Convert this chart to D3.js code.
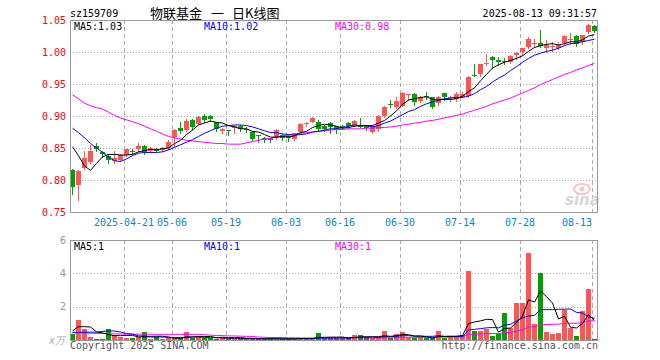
<!DOCTYPE html>
<html lang="zh">
<head>
<meta charset="UTF-8">
<title>物联基金 日K线图</title>
<script src="https://cdn.jsdelivr.net/npm/d3@7/dist/d3.min.js"></script>
<style>
  body { margin: 0; background: #fff; }
  text { font-family: "DejaVu Sans Mono", monospace; font-size: 10px; }
</style>
</head>
<body>
<svg width="660" height="360" id="mainsvg"></svg>
<script>
// trading days shown
const dates = [
  '2025-04-08','2025-04-09','2025-04-10','2025-04-11','2025-04-14','2025-04-15','2025-04-16','2025-04-17','2025-04-18','2025-04-21',
  '2025-04-22','2025-04-23','2025-04-24','2025-04-25','2025-04-28','2025-04-29','2025-04-30','2025-05-06','2025-05-07','2025-05-08',
  '2025-05-09','2025-05-12','2025-05-13','2025-05-14','2025-05-15','2025-05-16','2025-05-19','2025-05-20','2025-05-21','2025-05-22',
  '2025-05-23','2025-05-26','2025-05-27','2025-05-28','2025-05-29','2025-05-30','2025-06-03','2025-06-04','2025-06-05','2025-06-06',
  '2025-06-09','2025-06-10','2025-06-11','2025-06-12','2025-06-13','2025-06-16','2025-06-17','2025-06-18','2025-06-19','2025-06-20',
  '2025-06-23','2025-06-24','2025-06-25','2025-06-26','2025-06-27','2025-06-30','2025-07-01','2025-07-02','2025-07-03','2025-07-04',
  '2025-07-07','2025-07-08','2025-07-09','2025-07-10','2025-07-11','2025-07-14','2025-07-15','2025-07-16','2025-07-17','2025-07-18',
  '2025-07-21','2025-07-22','2025-07-23','2025-07-24','2025-07-25','2025-07-28','2025-07-29','2025-07-30','2025-07-31','2025-08-01',
  '2025-08-04','2025-08-05','2025-08-06','2025-08-07','2025-08-08','2025-08-11','2025-08-12','2025-08-13'
];

const open = [
  .816,.792,.818,.828,.853,.843,.838,.829,.831,.839,
  .846,.848,.853,.845,.848,.847,.850,.867,.881,.878,
  .894,.888,.900,.900,.890,.876,.878,.882,.884,.880,
  .875,.871,.866,.865,.866,.870,.869,.864,.875,.888,
  .891,.891,.884,.889,.884,.884,.889,.886,.885,.884,
  .875,.880,.900,.919,.914,.916,.933,.934,.924,.931,
  .929,.920,.936,.928,.927,.930,.931,.964,.965,.981,
  .992,.987,.986,.985,.995,1.000,1.008,1.013,1.014,1.006,
  1.009,1.006,1.014,1.020,1.025,1.016,1.031,1.041
];
const high = [
  .817,.816,.846,.854,.858,.846,.841,.845,.840,.849,
  .848,.858,.854,.852,.850,.851,.862,.879,.890,.896,
  .895,.900,.903,.901,.891,.882,.878,.886,.886,.883,
  .876,.871,.867,.866,.879,.872,.870,.874,.889,.890,
  .899,.893,.886,.890,.885,.886,.890,.894,.897,.885,
  .886,.901,.916,.925,.929,.938,.935,.936,.932,.937,
  .930,.932,.936,.931,.938,.937,.963,.982,.982,.997,
  .993,.992,.990,.996,1.000,1.007,1.023,1.021,1.034,1.018,
  1.015,1.016,1.026,1.030,1.026,1.027,1.044,1.042
];
const low = [
  .778,.769,.817,.826,.845,.836,.826,.827,.830,.838,
  .841,.846,.840,.843,.845,.846,.848,.853,.873,.876,
  .879,.887,.891,.892,.876,.874,.871,.873,.876,.875,
  .862,.860,.859,.859,.864,.863,.861,.862,.874,.884,
  .890,.876,.877,.873,.873,.880,.881,.884,.883,.878,
  .873,.877,.899,.914,.912,.915,.925,.917,.922,.926,
  .912,.917,.925,.924,.924,.929,.930,.962,.962,.979,
  .975,.980,.982,.983,.989,.995,1.006,1.008,1.008,1.000,
  1.002,1.004,1.012,1.012,1.009,1.012,1.030,1.032
];
const close = [
  .789,.814,.835,.845,.848,.840,.832,.835,.839,.848,
  .844,.853,.844,.850,.846,.850,.860,.878,.877,.892,
  .883,.899,.893,.895,.879,.880,.877,.884,.879,.878,
  .864,.869,.863,.863,.878,.866,.865,.873,.888,.889,
  .897,.880,.880,.883,.880,.883,.884,.892,.884,.882,
  .885,.900,.914,.918,.923,.936,.935,.922,.930,.929,
  .914,.930,.929,.929,.934,.935,.961,.963,.981,.983,
  .987,.985,.985,.994,.999,1.006,1.020,1.014,1.009,1.011,
  1.010,1.011,1.025,1.021,1.013,1.026,1.042,1.033
];

// price moving averages (as drawn)
const ma5 = [
  .852,.838,.822,.815,.826,.836,.840,.840,.839,.839,
  .840,.844,.846,.848,.847,.849,.850,.857,.862,.871,
  .878,.886,.889,.892,.890,.889,.885,.883,.880,.880,
  .876,.875,.871,.867,.867,.868,.867,.869,.874,.876,
  .882,.885,.887,.886,.884,.881,.882,.884,.885,.885,
  .885,.889,.893,.900,.908,.918,.925,.927,.929,.930,
  .926,.925,.926,.926,.927,.931,.938,.944,.955,.965,
  .975,.980,.984,.987,.990,.994,1.001,1.007,1.010,1.012,
  1.013,1.011,1.013,1.016,1.016,1.019,1.025,1.027
];
const ma10 = [
  .881,.874,.866,.857,.850,.843,.836,.830,.829,.833,
  .838,.842,.843,.843,.843,.844,.847,.851,.855,.859,
  .863,.868,.873,.877,.881,.884,.885,.886,.886,.885,
  .883,.880,.877,.874,.874,.872,.871,.870,.871,.872,
  .875,.876,.878,.880,.880,.882,.884,.886,.885,.885,
  .883,.885,.889,.892,.897,.902,.907,.910,.915,.919,
  .922,.925,.927,.928,.929,.929,.931,.935,.941,.946,
  .953,.959,.964,.971,.977,.984,.990,.995,.998,1.001,
  1.003,1.006,1.010,1.013,1.014,1.016,1.018,1.020
];
const ma30 = [
  .933,.927,.920,.916,.913,.911,.906,.901,.897,.894,
  .891,.888,.884,.880,.876,.872,.868,.866,.864,.862,
  .861,.860,.859,.858,.857,.857,.856,.856,.856,.858,
  .860,.862,.864,.865,.867,.869,.870,.872,.873,.874,
  .875,.876,.877,.878,.879,.879,.880,.880,.880,.881,
  .881,.882,.882,.883,.884,.886,.887,.889,.890,.892,
  .893,.895,.897,.899,.901,.903,.906,.909,.912,.915,
  .919,.922,.925,.928,.932,.936,.940,.944,.949,.953,
  .957,.961,.965,.968,.972,.975,.979,.982
];

// volume (万) and its averages
const volume = [
  .34,1.2,.66,.18,.06,.06,.66,.32,.2,.1,
  .1,.16,.46,.06,.16,.08,.1,.1,.1,.48,
  .14,.22,.1,.1,.08,.14,.08,.08,.06,.08,
  .08,.06,.08,.06,.08,.06,.08,.08,.1,.08,
  .08,.44,.1,.14,.1,.1,.1,.3,.3,.16,
  .1,.14,.54,.14,.36,.46,.1,.1,.2,.1,
  .1,.54,.1,.2,.2,.3,4.16,.54,.54,.66,
  .26,.36,1.64,.7,2.24,2.24,5.24,.96,4.04,.5,
  .38,.44,1.8,.72,.24,1.76,3.08,.08
];
const vma5 = [
  .55,.80,.80,.78,.49,.43,.32,.26,.26,.27,
  .28,.18,.20,.18,.19,.18,.17,.10,.11,.17,
  .18,.21,.21,.21,.13,.13,.10,.10,.09,.09,
  .08,.07,.07,.07,.07,.07,.07,.07,.08,.08,
  .08,.16,.16,.17,.17,.18,.11,.15,.18,.19,
  .19,.20,.25,.22,.26,.33,.32,.23,.24,.19,
  .12,.21,.21,.21,.23,.27,.99,1.08,1.15,1.24,
  1.23,.47,.69,.72,1.04,1.44,2.41,2.28,2.94,2.60,
  2.22,1.26,1.43,.77,.72,.99,1.52,1.18
];
const vma10 = [
  .46,.46,.47,.47,.47,.52,.54,.54,.48,.38,
  .35,.25,.23,.22,.23,.23,.17,.15,.14,.18,
  .18,.19,.15,.16,.15,.16,.15,.15,.15,.11,
  .10,.09,.08,.08,.08,.07,.07,.07,.08,.08,
  .08,.11,.12,.12,.13,.13,.13,.15,.17,.18,
  .18,.15,.20,.20,.22,.26,.26,.24,.23,.22,
  .22,.26,.22,.23,.21,.19,.60,.64,.68,.73,
  .75,.73,.89,.94,1.14,1.33,1.44,1.48,1.83,1.82,
  1.83,1.84,1.85,1.86,1.66,1.61,1.39,1.30
];
const vma30 = [
  .44,.43,.42,.41,.40,.39,.38,.37,.36,.35,
  .35,.35,.35,.35,.34,.34,.34,.34,.34,.34,
  .34,.34,.32,.29,.27,.26,.25,.24,.23,.22,
  .21,.18,.16,.15,.15,.15,.13,.13,.12,.12,
  .12,.13,.12,.12,.12,.12,.12,.13,.13,.12,
  .12,.12,.13,.13,.14,.15,.16,.16,.16,.16,
  .16,.18,.18,.18,.19,.20,.33,.35,.36,.38,
  .39,.38,.44,.45,.53,.60,.77,.79,.91,.93,
  .94,.95,.99,1.01,1.00,1.05,1.15,1.14
];

const priceTicks = [0.75, 0.80, 0.85, 0.90, 0.95, 1.00, 1.05];
const volTicks = [2, 4, 6];
const tickDates = ['2025-04-21','2025-05-06','2025-05-19','2025-06-03','2025-06-16','2025-06-30','2025-07-14','2025-07-28','2025-08-13'];
const tickLabels = ['2025-04-21','05-06','05-19','06-03','06-16','06-30','07-14','07-28','08-13'];

const svg = d3.select('#mainsvg');
const left = 70, right = 597;
const kTop = 20, kBottom = 212, vTop = 240, vBottom = 340;
const RED = '#ff5555', GREEN = '#00a000';

const x = d3.scaleBand().domain(dates).range([left, left + dates.length * 6]);
const y = d3.scaleLinear().domain([0.75, 1.05]).range([kBottom, kTop]);
const yv = d3.scaleLinear().domain([0, 6]).range([vBottom, vTop]);
const cx = d => x(d) + 2.5;

// grid
const grid = svg.append('g');
grid.selectAll('.hk').data(priceTicks.slice(1, -1)).join('line')
  .attr('x1', left).attr('x2', right)
  .attr('y1', d => Math.round(y(d)) + 0.5).attr('y2', d => Math.round(y(d)) + 0.5)
  .attr('stroke', '#aaa').attr('stroke-dasharray', '1,2');
grid.selectAll('.hv').data([2, 4]).join('line')
  .attr('x1', left).attr('x2', right)
  .attr('y1', d => Math.round(yv(d)) + 0.5).attr('y2', d => Math.round(yv(d)) + 0.5)
  .attr('stroke', '#aaa').attr('stroke-dasharray', '1,2');
[[kTop, kBottom], [vTop, vBottom]].forEach(([t, b]) => {
  grid.append('g').selectAll('line').data(tickDates).join('line')
    .attr('x1', d => x(d) + 0.5).attr('x2', d => x(d) + 0.5)
    .attr('y1', t).attr('y2', b)
    .attr('stroke', '#aaa').attr('stroke-dasharray', '4,3');
});

// watermark
const logo = svg.append('g');
logo.append('ellipse').attr('cx', 582).attr('cy', 189).attr('rx', 8).attr('ry', 5)
  .attr('fill', 'none').attr('stroke', '#f5c4c4').attr('stroke-width', 2);
logo.append('circle').attr('cx', 582).attr('cy', 189).attr('r', 2.5).attr('fill', '#f5c4c4');
logo.append('text').attr('x', 565).attr('y', 205)
  .style('font-family', 'DejaVu Sans').style('font-size', '15px')
  .style('font-weight', 'bold').style('font-style', 'italic')
  .attr('fill', '#d6d6d6').text('sina');

// candles
const candles = svg.append('g');
dates.forEach((d, i) => {
  const up = close[i] >= open[i];
  const col = up ? RED : GREEN;
  candles.append('line')
    .attr('x1', cx(d)).attr('x2', cx(d))
    .attr('y1', Math.round(y(high[i]))).attr('y2', Math.round(y(low[i])) + 1)
    .attr('stroke', col);
  const top = Math.round(y(Math.max(open[i], close[i])));
  const bot = Math.round(y(Math.min(open[i], close[i])));
  candles.append('rect')
    .attr('x', x(d)).attr('width', 5)
    .attr('y', top).attr('height', Math.max(1, bot - top))
    .attr('fill', col);
  const vt = Math.round(yv(volume[i]));
  svg.append('rect')
    .attr('x', x(d)).attr('width', 5)
    .attr('y', Math.min(vt, vBottom - 1)).attr('height', Math.max(1, vBottom - vt))
    .attr('fill', col);
});

// moving average lines
const priceLine = d3.line().x((v, i) => cx(dates[i])).y(v => y(v));
const volLine = d3.line().x((v, i) => cx(dates[i])).y(v => yv(v));
[[ma30, '#ff00ff'], [ma10, '#0000ff'], [ma5, '#000']].forEach(([s, c]) => {
  svg.append('path').attr('d', priceLine(s)).attr('fill', 'none').attr('stroke', c);
});
[[vma30, '#ff00ff'], [vma10, '#0000ff'], [vma5, '#000']].forEach(([s, c]) => {
  svg.append('path').attr('d', volLine(s)).attr('fill', 'none').attr('stroke', c);
});

// frames
[[kTop, kBottom], [vTop, vBottom]].forEach(([t, b]) => {
  svg.append('rect').attr('x', left + 0.5).attr('y', t + 0.5)
    .attr('width', right - left).attr('height', b - t)
    .attr('fill', 'none').attr('stroke', '#999');
});

// axis labels
svg.append('g').selectAll('text').data(priceTicks).join('text')
  .attr('x', 66).attr('y', d => y(d) + 3.5)
  .attr('text-anchor', 'end').attr('fill', '#ff0000')
  .text(d => d.toFixed(2));
svg.append('g').selectAll('text').data(volTicks).join('text')
  .attr('x', 66).attr('y', d => yv(d) + 3.5)
  .attr('text-anchor', 'end').attr('fill', '#999')
  .style('font-family', 'DejaVu Sans')
  .text(d => d);
svg.append('text').attr('x', 65).attr('y', 344).attr('text-anchor', 'end')
  .attr('fill', '#aaa').style('font-style', 'italic').text('x万');

svg.append('g').selectAll('text').data(tickDates).join('text')
  .attr('x', d => x(d))
  .attr('y', 225.5)
  .attr('text-anchor', (d, i) => x(d) + tickLabels[i].length * 3 > right ? 'end' : 'middle')
  .attr('fill', '#0a84cc')
  .text((d, i) => tickLabels[i]);

// legends
const n = dates.length - 1;
const legend = [
  ['MA5:' + ma5[n].toFixed(2), 74, '#000'],
  ['MA10:' + ma10[n].toFixed(2), 204, '#0000ff'],
  ['MA30:' + ma30[n].toFixed(2), 335, '#ff00ff']
];
legend.forEach(([t, lx, c]) => svg.append('text').attr('x', lx).attr('y', 29.5).attr('fill', c).text(t));
const vlegend = [
  ['MA5:' + Math.round(vma5[n]), 74, '#000'],
  ['MA10:' + Math.round(vma10[n]), 204, '#0000ff'],
  ['MA30:' + Math.round(vma30[n]), 335, '#ff00ff']
];
vlegend.forEach(([t, lx, c]) => svg.append('text').attr('x', lx).attr('y', 250).attr('fill', c).text(t));

// titles
svg.append('text').attr('x', 70).attr('y', 17).attr('fill', '#000').text('sz159709');
const cjk = s => s.style('font-family', '"Noto Sans CJK SC"').style('font-size', '13px');
cjk(svg.append('text').attr('x', 150).attr('y', 17.5).attr('fill', '#000').text('物联基金'));
cjk(svg.append('text').attr('x', 211).attr('y', 17.5).attr('fill', '#000').text('一'));
cjk(svg.append('text').attr('x', 232).attr('y', 17.5).attr('fill', '#000').text('日K线图'));
svg.append('text').attr('x', right).attr('y', 17).attr('text-anchor', 'end').attr('fill', '#000')
  .text('2025-08-13 09:31:57');

svg.append('text').attr('x', 70).attr('y', 349).attr('fill', '#555').text('Copyright 2025 SINA.COM');
svg.append('text').attr('x', right + 1).attr('y', 349).attr('text-anchor', 'end').attr('fill', '#555')
  .text('http://finance.sina.com.cn');
</script>
</body>
</html>
